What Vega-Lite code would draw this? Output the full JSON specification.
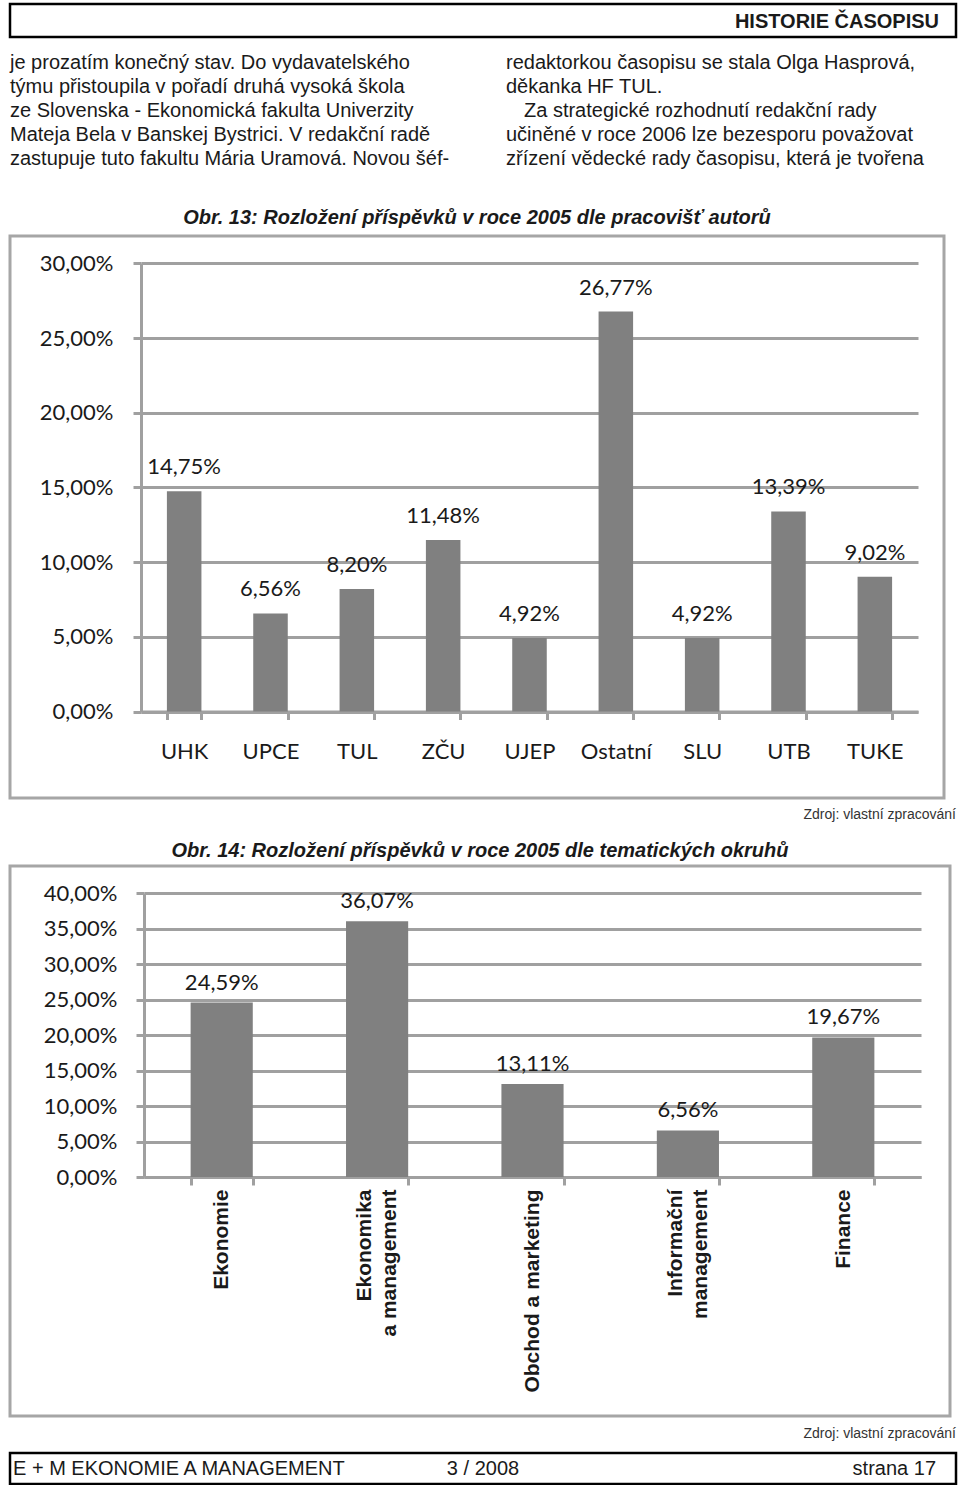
{
  "$schema": "https://vega.github.io/schema/vega-lite/v6.json",
  "padding": {"left": -3, "top": 2, "right": 0, "bottom": 0},
  "background": "white",
  "spacing": 0,
  "config": {
    "font": "Liberation Sans",
    "view": {"stroke": null},
    "locale": {"number": {"decimal": ",", "thousands": " ", "grouping": [3], "currency": ["", " Kč"]}},
    "title": {"font": "Liberation Sans", "fontSize": 20, "fontWeight": "bold", "fontStyle": "italic", "color": "#1a1a1a", "anchor": "middle", "offset": 8}
  },
  "datasets": {
    "pracoviste": [
      {"pracoviste": "UHK", "podil": 0.1475},
      {"pracoviste": "UPCE", "podil": 0.0656},
      {"pracoviste": "TUL", "podil": 0.0820},
      {"pracoviste": "ZČU", "podil": 0.1148},
      {"pracoviste": "UJEP", "podil": 0.0492},
      {"pracoviste": "Ostatní", "podil": 0.2677},
      {"pracoviste": "SLU", "podil": 0.0492},
      {"pracoviste": "UTB", "podil": 0.1339},
      {"pracoviste": "TUKE", "podil": 0.0902}
    ],
    "okruhy": [
      {"okruh": "Ekonomie", "podil": 0.2459},
      {"okruh": "Ekonomika\na management", "podil": 0.3607},
      {"okruh": "Obchod a marketing", "podil": 0.1311},
      {"okruh": "Informační\nmanagement", "podil": 0.0656},
      {"okruh": "Finance", "podil": 0.1967}
    ],
    "textPravy": [
      {"radek": 1, "odstavec": false, "text": "redaktorkou časopisu se stala Olga Hasprová,"},
      {"radek": 2, "odstavec": false, "text": "děkanka HF TUL."},
      {"radek": 3, "odstavec": true, "text": "Za strategické rozhodnutí redakční rady"},
      {"radek": 4, "odstavec": false, "text": "učiněné v roce 2006 lze bezesporu považovat"},
      {"radek": 5, "odstavec": false, "text": "zřízení vědecké rady časopisu, která je tvořena"}
    ]
  },
  "vconcat": [
    {
      "width": 946, "height": 33,
      "view": {"stroke": "#000000", "strokeWidth": 2.5},
      "data": {"values": [{"t": "HISTORIE ČASOPISU"}]},
      "mark": {"type": "text", "align": "right", "baseline": "middle", "dx": -17, "dy": 1, "fontWeight": "bold", "fontSize": 20, "color": "#1a1a1a"},
      "encoding": {"x": {"value": "width"}, "text": {"field": "t"}}
    },
    {
      "spacing": 44,
      "hconcat": [
        {
          "width": 452, "height": 167,
          "data": {"values": [
            {"radek": 1, "text": "je prozatím konečný stav. Do vydavatelského"},
            {"radek": 2, "text": "týmu přistoupila v pořadí druhá vysoká škola"},
            {"radek": 3, "text": "ze Slovenska - Ekonomická fakulta Univerzity"},
            {"radek": 4, "text": "Mateja Bela v Banskej Bystrici. V redakční radě"},
            {"radek": 5, "text": "zastupuje tuto fakultu Mária Uramová. Novou šéf-"}
          ]},
          "mark": {"type": "text", "align": "left", "baseline": "middle", "fontSize": 20, "color": "#1a1a1a"},
          "encoding": {
            "x": {"value": 0},
            "y": {"field": "radek", "type": "quantitative", "scale": {"domain": [0.0208, 6.979], "reverse": true, "nice": false, "zero": false}, "axis": null},
            "text": {"field": "text"}
          }
        },
        {
          "width": 450, "height": 167,
          "data": {"name": "textPravy"},
          "encoding": {
            "x": {"value": 0},
            "y": {"field": "radek", "type": "quantitative", "scale": {"domain": [0.0208, 6.979], "reverse": true, "nice": false, "zero": false}, "axis": null},
            "text": {"field": "text"}
          },
          "layer": [
            {
              "transform": [{"filter": "!datum.odstavec"}],
              "mark": {"type": "text", "align": "left", "baseline": "middle", "fontSize": 20, "color": "#1a1a1a"}
            },
            {
              "transform": [{"filter": "datum.odstavec"}],
              "mark": {"type": "text", "align": "left", "baseline": "middle", "dx": 18, "fontSize": 20, "color": "#1a1a1a"}
            }
          ]
        }
      ]
    },
    {
      "width": 934, "height": 562,
      "view": {"stroke": "#a6a6a6", "strokeWidth": 3},
      "title": {"text": "Obr. 13: Rozložení příspěvků v roce 2005 dle pracovišť autorů"},
      "data": {"name": "pracoviste"},
      "encoding": {
        "x": {
          "field": "pracoviste", "type": "nominal", "sort": null,
          "scale": {"range": [131, 908], "paddingInner": 0.6, "paddingOuter": 0.3},
          "axis": {"orient": "bottom", "offset": -86.5, "title": null, "tickBand": "extent", "tickSize": 8, "tickWidth": 3, "tickColor": "#a0a0a0", "domainColor": "#a0a0a0", "domainWidth": 3, "labelAngle": 0, "labelFont": "Lato", "labelFontSize": 22, "labelPadding": 22, "labelColor": "#1a1a1a", "grid": false}
        },
        "y": {
          "field": "podil", "type": "quantitative",
          "scale": {"domain": [0, 0.3], "range": [475.5, 27.3], "nice": false},
          "axis": {"orient": "left", "offset": -131, "title": null, "values": [0, 0.05, 0.1, 0.15, 0.2, 0.25, 0.3], "format": ".2%", "grid": true, "gridColor": "#a0a0a0", "gridWidth": 3, "domainColor": "#a0a0a0", "domainWidth": 3, "tickColor": "#a0a0a0", "tickWidth": 3, "tickSize": 8, "labelFont": "Lato", "labelFontSize": 22, "labelColor": "#1a1a1a", "labelPadding": 20}
        }
      },
      "layer": [
        {"mark": {"type": "bar", "color": "#808080"}},
        {"mark": {"type": "text", "baseline": "middle", "dy": -24, "font": "Lato", "fontSize": 22, "color": "#1a1a1a"},
         "encoding": {"text": {"field": "podil", "type": "quantitative", "format": ".2%"}}}
      ]
    },
    {
      "width": 946, "height": 39,
      "data": {"values": [{"t": "Zdroj: vlastní zpracování"}]},
      "mark": {"type": "text", "align": "right", "baseline": "middle", "dy": -5, "fontSize": 14, "color": "#333333"},
      "encoding": {"x": {"value": "width"}, "text": {"field": "t"}}
    },
    {
      "width": 940, "height": 550,
      "view": {"stroke": "#a6a6a6", "strokeWidth": 3},
      "title": {"text": "Obr. 14: Rozložení příspěvků v roce 2005 dle tematických okruhů", "offset": 5},
      "data": {"name": "okruhy"},
      "encoding": {
        "x": {
          "field": "okruh", "type": "nominal", "sort": null,
          "scale": {"range": [134, 911], "paddingInner": 0.6, "paddingOuter": 0.3},
          "axis": {"orient": "bottom", "offset": -239, "title": null, "tickBand": "extent", "tickSize": 8, "tickWidth": 3, "tickColor": "#a0a0a0", "domainColor": "#a0a0a0", "domainWidth": 3, "labelAngle": -90, "labelAlign": "right", "labelBaseline": "middle", "labelFont": "Liberation Sans", "labelFontWeight": "bold", "labelFontSize": 21, "labelLineHeight": 12.5, "labelOffset": -12.5, "labelPadding": 4, "labelLimit": 400, "labelColor": "#1a1a1a", "labelExpr": "indexof(datum.label, '\\n') >= 0 ? [split(datum.label, '\\n')[0], '\u200b', split(datum.label, '\\n')[1]] : ['', datum.label]", "grid": false}
        },
        "y": {
          "field": "podil", "type": "quantitative",
          "scale": {"domain": [0, 0.4], "range": [311, 27.3], "nice": false},
          "axis": {"orient": "left", "offset": -134, "title": null, "values": [0, 0.05, 0.1, 0.15, 0.2, 0.25, 0.3, 0.35, 0.4], "format": ".2%", "grid": true, "gridColor": "#a0a0a0", "gridWidth": 3, "domainColor": "#a0a0a0", "domainWidth": 3, "tickColor": "#a0a0a0", "tickWidth": 3, "tickSize": 8, "labelFont": "Lato", "labelFontSize": 22, "labelColor": "#1a1a1a", "labelPadding": 19}
        }
      },
      "layer": [
        {"mark": {"type": "bar", "color": "#808080"}},
        {"mark": {"type": "text", "baseline": "middle", "dy": -20, "font": "Lato", "fontSize": 22, "color": "#1a1a1a"},
         "encoding": {"text": {"field": "podil", "type": "quantitative", "format": ".2%"}}}
      ]
    },
    {
      "width": 946, "height": 33,
      "data": {"values": [{"t": "Zdroj: vlastní zpracování"}]},
      "mark": {"type": "text", "align": "right", "baseline": "middle", "dy": -1, "fontSize": 14, "color": "#333333"},
      "encoding": {"x": {"value": "width"}, "text": {"field": "t"}}
    },
    {
      "width": 946, "height": 31,
      "view": {"stroke": "#000000", "strokeWidth": 2.5},
      "layer": [
        {
          "data": {"values": [{"t": "E + M EKONOMIE A MANAGEMENT"}]},
          "mark": {"type": "text", "align": "left", "baseline": "middle", "dx": 3, "fontSize": 20, "color": "#1a1a1a"},
          "encoding": {"x": {"value": 0}, "text": {"field": "t"}}
        },
        {
          "data": {"values": [{"t": "3 / 2008"}]},
          "mark": {"type": "text", "align": "center", "baseline": "middle", "fontSize": 20, "color": "#1a1a1a"},
          "encoding": {"text": {"field": "t"}}
        },
        {
          "data": {"values": [{"t": "strana 17"}]},
          "mark": {"type": "text", "align": "right", "baseline": "middle", "dx": -20, "fontSize": 20, "color": "#1a1a1a"},
          "encoding": {"x": {"value": "width"}, "text": {"field": "t"}}
        }
      ]
    }
  ]
}
